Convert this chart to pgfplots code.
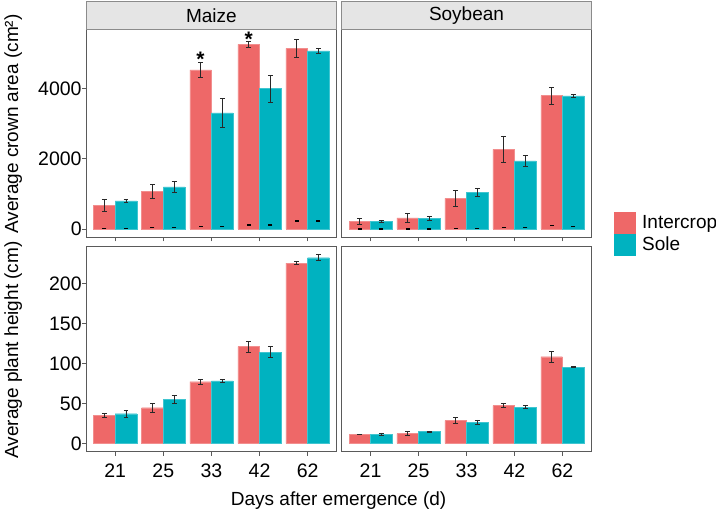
\documentclass[border=0pt]{standalone}
\usepackage{fontspec}
\setmainfont{Liberation Sans}
\usepackage{pgfplots}
\pgfplotsset{compat=1.18}
\usepackage{pgfplotstable}
\definecolor{cred}{RGB}{238,104,104}
\definecolor{cteal}{RGB}{0,178,192}
\definecolor{frame}{RGB}{90,90,90}
\definecolor{stripfill}{RGB}{229,229,229}
\definecolor{errc}{RGB}{40,40,40}

% x positions: category i at i, Intercrop at i-0.225, Sole at i+0.225
\pgfplotstableread{
x y e d
0.775 674 165 20
1.775 1061 200 40
2.775 4524 213 75
3.775 5255 80 114
4.775 5141 252 228
}\mcrR
\pgfplotstableread{
x y e d
1.225 797 43 20
2.225 1195 157 50
3.225 3300 408 75
4.225 3992 388 114
5.225 5064 80 228
}\mcrS
\pgfplotstableread{
x y e d
0.775 219 85 0
1.775 313 128 0
2.775 873 218 20
3.775 2267 379 40
4.775 3792 237 95
}\scrR
\pgfplotstableread{
x y e d
1.225 208 33 0
2.225 304 57 0
3.225 1044 109 20
4.225 1935 152 40
5.225 3784 38 75
}\scrS
\pgfplotstableread{
x y e
0.775 35.1 2.3
1.775 44.6 5.6
2.775 77.2 2.7
3.775 121.1 6.7
4.775 225.9 2.1
}\mhtR
\pgfplotstableread{
x y e
1.225 37.1 4.4
2.225 54.7 5.2
3.225 78.1 1.9
4.225 114.4 7.1
5.225 232.6 3.6
}\mhtS
\pgfplotstableread{
x y e
0.775 11.3 0.5
1.775 12.1 2.3
2.775 28.4 3.8
3.775 47.2 2.5
4.775 108.5 6.5
}\shtR
\pgfplotstableread{
x y e
1.225 11.3 1.7
2.225 14.6 1.0
3.225 26.7 2.7
4.225 45.5 1.7
5.225 95.6 0.3
}\shtS

\pgfplotsset{
  panel/.style={
    scale only axis,
    xmin=0.4, xmax=5.6,
    axis line style={draw=frame, line width=0.8bp},
    tick style={draw=frame, line width=0.8bp},
    tick align=outside,
    major tick length=4bp,
    xtick={1,2,3,4,5},
    xtick pos=bottom, ytick pos=left,
    scaled y ticks=false,
    /pgf/number format/1000 sep={},
    /pgf/number format/assume math mode=true,
    tick label style={font=\fontsize{19.5bp}{22bp}\selectfont},
    yticklabel style={inner xsep=0.5bp},
    xticklabel style={inner ysep=7.5bp},
    clip=false,
  },
  barR/.style={ybar, bar width=0.45, bar shift=0pt, fill=cred, draw=cred!75!white, line width=0.4bp,
    legend image code/.code={\fill[cred] (0bp,-10.5bp) rectangle (21bp,10.5bp);},
    error bars/.cd, y dir=both, y explicit,
    error bar style={draw=errc, line width=0.7bp},
    error mark options={rotate=90, mark size=2.4bp, line width=0.7bp, draw=errc}},
  barS/.style={ybar, bar width=0.45, bar shift=0pt, fill=cteal, draw=cteal!75!white, line width=0.4bp,
    legend image code/.code={\fill[cteal] (0bp,-10.5bp) rectangle (21bp,10.5bp);},
    error bars/.cd, y dir=both, y explicit,
    error bar style={draw=errc, line width=0.7bp},
    error mark options={rotate=90, mark size=2.4bp, line width=0.7bp, draw=errc}},
  dash/.style={only marks, mark=-, mark size=2bp, mark options={line width=1.3bp, color=black}, forget plot},
  toprow/.style={ymin=-236, ymax=5681, ytick={0,2000,4000}, height=208bp},
  botrow/.style={ymin=-10.5, ymax=246.4, ytick={0,50,100,150,200}, height=205bp},
}

\begin{document}
\begin{tikzpicture}[x=1bp,y=1bp]
\useasboundingbox (0,0) rectangle (716,511);

% top-left: Maize crown area
\begin{axis}[panel, toprow, name=tl, width=250.2bp, at={(86.3bp,273.7bp)}, anchor=south west, xticklabels={}]
\addplot[barR] table[x=x,y=y,y error=e] {\mcrR};
\addplot[barS] table[x=x,y=y,y error=e] {\mcrS};
\addplot[dash] table[x=x,y=d] {\mcrR};
\addplot[dash] table[x=x,y=d] {\mcrS};
\addplot[only marks, mark=none, nodes near coords={\textbf{*}},
  every node near coord/.append style={anchor=center, font=\fontsize{21bp}{22bp}\selectfont}]
  coordinates {(2.775,4820) (3.775,5400)};
\end{axis}

% top-right: Soybean crown area
\begin{axis}[panel, toprow, name=tr, width=249.4bp, at={(341.8bp,273.7bp)}, anchor=south west, xticklabels={}, ytick=\empty,
  legend style={draw=none, fill=none, at={(1.091,0.017)}, anchor=west, inner sep=0pt, row sep=0pt,
    nodes={inner sep=0pt, font=\fontsize{19bp}{22bp}\selectfont},
    /tikz/every odd column/.append style={column sep=6.7bp}},
  legend cell align=left]
\addplot[barR] table[x=x,y=y,y error=e] {\scrR};
\addlegendentry{Intercrop}
\addplot[barS] table[x=x,y=y,y error=e] {\scrS};
\addlegendentry{Sole}
\addplot[dash] table[x=x,y=d] {\scrR};
\addplot[dash] table[x=x,y=d] {\scrS};
\end{axis}

% bottom-left: Maize height
\begin{axis}[panel, botrow, name=bl, width=250.2bp, at={(86.3bp,59.3bp)}, anchor=south west, xticklabels={21,25,33,42,62}]
\addplot[barR] table[x=x,y=y,y error=e] {\mhtR};
\addplot[barS] table[x=x,y=y,y error=e] {\mhtS};
\end{axis}

% bottom-right: Soybean height
\begin{axis}[panel, botrow, name=br, width=249.4bp, at={(341.8bp,59.3bp)}, anchor=south west, xticklabels={21,25,33,42,62}, ytick=\empty]
\addplot[barR] table[x=x,y=y,y error=e] {\shtR};
\addplot[barS] table[x=x,y=y,y error=e] {\shtS};
\end{axis}

% strips
\draw[fill=stripfill, draw=frame!70, line width=0.8bp] (tl.north west) rectangle ([yshift=27.6bp]tl.north east);
\node[font=\fontsize{19bp}{22bp}\selectfont] at ([yshift=13.2bp]tl.north) {Maize};
\draw[fill=stripfill, draw=frame!70, line width=0.8bp] (tr.north west) rectangle ([yshift=27.6bp]tr.north east);
\node[font=\fontsize{19bp}{22bp}\selectfont] at ([yshift=13.2bp]tr.north) {Soybean};

% axis titles
\node[rotate=90, anchor=base, font=\fontsize{19bp}{22bp}\selectfont] at (18,387) {Average crown area (cm²)};
\node[rotate=90, anchor=base, font=\fontsize{19bp}{22bp}\selectfont] at (18,161) {Average plant height (cm)};
\node[anchor=base, font=\fontsize{19bp}{22bp}\selectfont] at (338.6,5) {Days after emergence (d)};
\end{tikzpicture}
\end{document}
